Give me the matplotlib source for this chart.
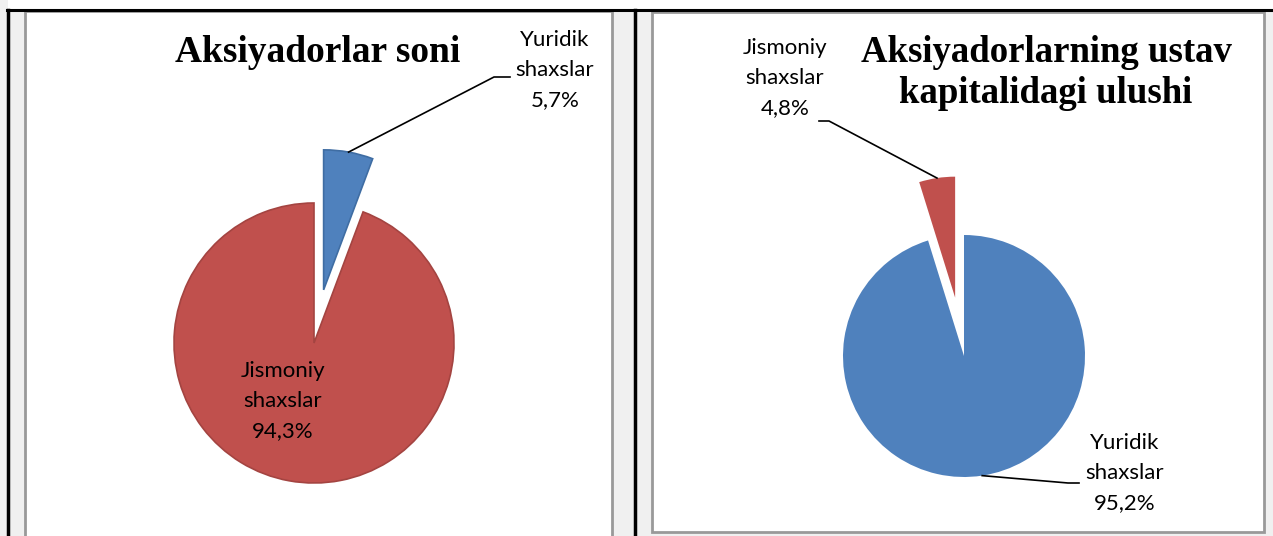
import numpy as np
import matplotlib.pyplot as plt
from matplotlib.patches import Rectangle

# ma'lumotlar
labels_left = ["Yuridik\nshaxslar", "Jismoniy\nshaxslar"]
values_left = [5.7, 94.3]
labels_right = ["Yuridik\nshaxslar", "Jismoniy\nshaxslar"]
values_right = [95.2, 4.8]
title_left = "Aksiyadorlar soni"
title_right = "Aksiyadorlarning ustav\nkapitalidagi ulushi"

blue = "#4f81bd"
red = "#c0504d"
W, H = 1273, 536

fig = plt.figure(figsize=(W / 100, H / 100), dpi=100)
fig.patch.set_facecolor("#f0f0f0")
ax = fig.add_axes([0, 0, 1, 1])


def Y(y):
    # rasm koordinatasidan (yuqoridan) pastdan o'lchanadiganga
    return H - y


# jadval fonlari va chegaralari
ax.add_patch(Rectangle((8, Y(9)), W - 8, 9, facecolor="white", edgecolor="none", zorder=0))
ax.add_patch(Rectangle((25, Y(H + 5)), 587, H + 5 - 11, facecolor="white", edgecolor="#999999", lw=2, zorder=0))
ax.add_patch(Rectangle((652, Y(532)), 612, 532 - 12, facecolor="white", edgecolor="#999999", lw=2, zorder=0))
ax.plot([7, W], [Y(9.5), Y(9.5)], color="black", lw=2.2, zorder=0.5)
ax.plot([7.5, 7.5], [Y(9.5), 0], color="black", lw=2.5, zorder=0.5)
ax.plot([635, 635], [Y(9.5), 0], color="black", lw=2.5, zorder=0.5)

# 1-diagramma (explode piksel birligida)
wl, _ = ax.pie(values_left, colors=[blue, red], startangle=90, counterclock=False,
               explode=[54, 0], center=(314, Y(343)), radius=140,
               wedgeprops=dict(edgecolor="#a44441", linewidth=1.2))
wl[0].set_edgecolor("#3f6da3")

# 2-diagramma
wr, _ = ax.pie(values_right, colors=[blue, red], startangle=90, counterclock=False,
               explode=[0, 59], center=(964, Y(356)), radius=121,
               wedgeprops=dict(edgecolor="none"))

ax.set_xlim(0, W)
ax.set_ylim(0, H)
ax.set_aspect("auto")
ax.axis("off")


def edge_point(w):
    a = np.deg2rad((w.theta1 + w.theta2) / 2)
    cx, cy = w.center
    return cx + w.r * np.cos(a), cy + w.r * np.sin(a)


lab_font = dict(family="Lato", fontsize=16, ha="center", va="center", linespacing=1.6)

# yorliqlar va chiziqlar
x0, y0 = edge_point(wl[0])
ax.plot([x0, 494, 510], [y0, Y(77), Y(77)], color="black", lw=1.2)
ax.text(555, Y(70), f"{labels_left[0]}\n{values_left[0]:.1f}%".replace(".", ","), **lab_font)
ax.text(283, Y(401), f"{labels_left[1]}\n{values_left[1]:.1f}%".replace(".", ","), **lab_font)

x0, y0 = edge_point(wr[1])
ax.plot([x0, 829, 819], [y0, Y(121), Y(121)], color="black", lw=1.2)
ax.text(785, Y(78), f"{labels_right[1]}\n{values_right[1]:.1f}%".replace(".", ","), **lab_font)

x0, y0 = edge_point(wr[0])
ax.plot([x0, 1068, 1079], [y0, Y(483), Y(483)], color="black", lw=1.2)
ax.text(1125, Y(473), f"{labels_right[0]}\n{values_right[0]:.1f}%".replace(".", ","), **lab_font)

# sarlavhalar
ax.text(318, Y(52), title_left, family="Liberation Serif", fontweight="bold",
        fontsize=27, ha="center", va="center")
ax.text(1046, Y(73), title_right, family="Liberation Serif", fontweight="bold",
        fontsize=26.5, ha="center", va="center", linespacing=1.22)

fig.savefig("out.png", dpi=100, facecolor=fig.get_facecolor())
